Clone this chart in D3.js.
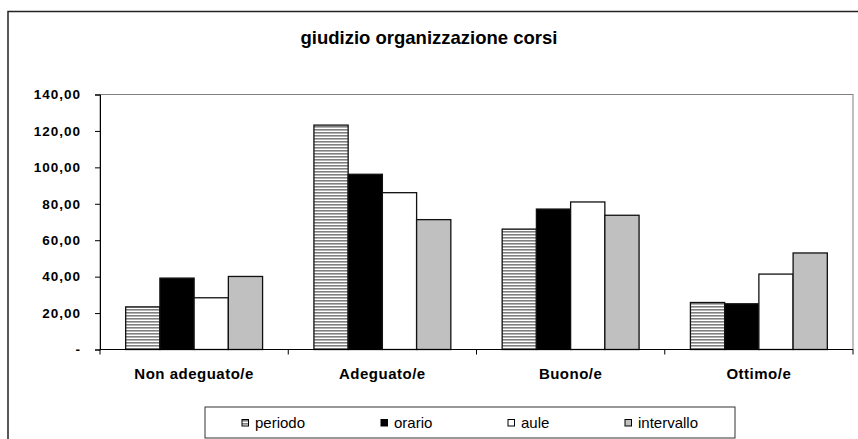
<!DOCTYPE html>
<html>
<head>
<meta charset="utf-8">
<script src="https://cdn.jsdelivr.net/npm/d3@7"></script>
<style>
  body { margin: 0; background: #fff; }
  text { font-family: "Liberation Sans", Arial, sans-serif; }
</style>
</head>
<body>
<svg id="chart" width="858" height="439"></svg>
<script>
// chart data
const categories = ['Non adeguato/e', 'Adeguato/e', 'Buono/e', 'Ottimo/e'];
const seriesNames = ['periodo', 'orario', 'aule', 'intervallo'];
const periodo = [23.4, 123.2, 66.1, 25.8];
const orario = [39.2, 96.2, 77.1, 25.1];
const aule = [28.4, 86.1, 81.0, 41.4];
const intervallo = [40.1, 71.3, 73.7, 53.0];
const yTicks = [0, 20, 40, 60, 80, 100, 120, 140];

const seriesValues = [periodo, orario, aule, intervallo];
const fills = ['url(#stripes)', '#000', '#fff', '#c0c0c0'];

const svg = d3.select('#chart');

// horizontal stripe pattern for "periodo"
const pat = svg.append('defs').append('pattern')
    .attr('id', 'stripes')
    .attr('patternUnits', 'userSpaceOnUse')
    .attr('width', 6).attr('height', 3);
pat.append('rect').attr('width', 6).attr('height', 3).attr('fill', '#fff');
pat.append('rect').attr('width', 6).attr('height', 1.6).attr('fill', '#808080');

// outer frame
svg.append('rect')
    .attr('x', 8).attr('y', 11.5)
    .attr('width', 870).attr('height', 440)
    .attr('fill', '#fff')
    .attr('stroke', '#222').attr('stroke-width', 1.5);

svg.append('text')
    .attr('x', 429).attr('y', 38)
    .attr('dy', '0.35em')
    .attr('text-anchor', 'middle')
    .style('font-size', '18.5px').style('font-weight', 'bold')
    .text('giudizio organizzazione corsi');

const plotL = 100, plotR = 853, plotT = 94.5, plotB = 349.5;

let x0 = d3.scaleBand().domain(categories).range([plotL, plotR]);
let x1 = d3.scaleBand().domain(seriesNames).range([0, x0.bandwidth()]).paddingOuter(0.75);
let y = d3.scaleLinear().domain([0, 140]).range([plotB, plotT]);

// plot area border
svg.append('rect')
    .attr('x', plotL).attr('y', plotT)
    .attr('width', plotR - plotL).attr('height', plotB - plotT)
    .attr('fill', 'none').attr('stroke', '#808080').attr('stroke-width', 1);

// bars
let groups = svg.selectAll('.grp')
    .data(categories)
    .enter()
    .append('g')
    .attr('class', 'grp')
    .attr('transform', d => 'translate(' + x0(d) + ',0)');
groups.selectAll('rect')
    .data((d, i) => seriesNames.map((s, j) => ({s: s, j: j, v: seriesValues[j][i]})))
    .enter()
    .append('rect')
    .attr('x', d => x1(d.s))
    .attr('y', d => y(d.v))
    .attr('width', x1.bandwidth())
    .attr('height', d => plotB - y(d.v))
    .attr('fill', d => fills[d.j])
    .attr('stroke', '#111').attr('stroke-width', 1.3);

// y axis
let fmt = v => v === 0 ? '-' : d3.format('.2f')(v).replace('.', ',');
let yAxis = svg.append('g')
    .attr('transform', 'translate(' + plotL + ',0)')
    .call(d3.axisLeft(y).tickValues(yTicks).tickSize(5).tickPadding(14).tickFormat(fmt));
yAxis.select('.domain').attr('stroke', '#000');
yAxis.selectAll('.tick line').attr('stroke', '#000');
yAxis.selectAll('text')
    .style('font-size', '13.5px').style('font-weight', 'bold')
    .style('letter-spacing', '1px')
    .style('font-family', '"Liberation Sans", Arial, sans-serif')
    .attr('fill', '#000');

// x axis
let xAxis = svg.append('g')
    .attr('transform', 'translate(0,' + plotB + ')');
xAxis.append('line')
    .attr('x1', plotL).attr('x2', plotR)
    .attr('stroke', '#000');
xAxis.selectAll('.xt')
    .data(categories.concat(['end']))
    .enter()
    .append('line')
    .attr('x1', (d, i) => plotL + i * x0.step())
    .attr('x2', (d, i) => plotL + i * x0.step())
    .attr('y1', 0).attr('y2', 5)
    .attr('stroke', '#000');
xAxis.selectAll('.xl')
    .data(categories)
    .enter()
    .append('text')
    .attr('x', d => x0(d) + x0.bandwidth() / 2)
    .attr('y', 24)
    .attr('dy', '0.35em')
    .attr('text-anchor', 'middle')
    .style('font-size', '15px').style('font-weight', 'bold')
    .style('letter-spacing', '0.5px')
    .text(d => d);

// legend
let legend = svg.append('g').attr('transform', 'translate(205,407)');
legend.append('rect')
    .attr('width', 530).attr('height', 31)
    .attr('fill', '#fff').attr('stroke', '#333').attr('stroke-width', 1);
let legendX = [37, 176, 303, 420];
let items = legend.selectAll('.li')
    .data(seriesNames)
    .enter()
    .append('g')
    .attr('transform', (d, i) => 'translate(' + legendX[i] + ',16)');
items.append('rect')
    .attr('x', 0).attr('y', -3.5)
    .attr('width', 6.5).attr('height', 6.5)
    .attr('fill', (d, i) => fills[i])
    .attr('stroke', '#000').attr('stroke-width', 1);
items.append('text')
    .attr('x', 13).attr('y', 0)
    .attr('dy', '0.35em')
    .style('font-size', '15px')
    .text(d => d);
</script>
</body>
</html>
